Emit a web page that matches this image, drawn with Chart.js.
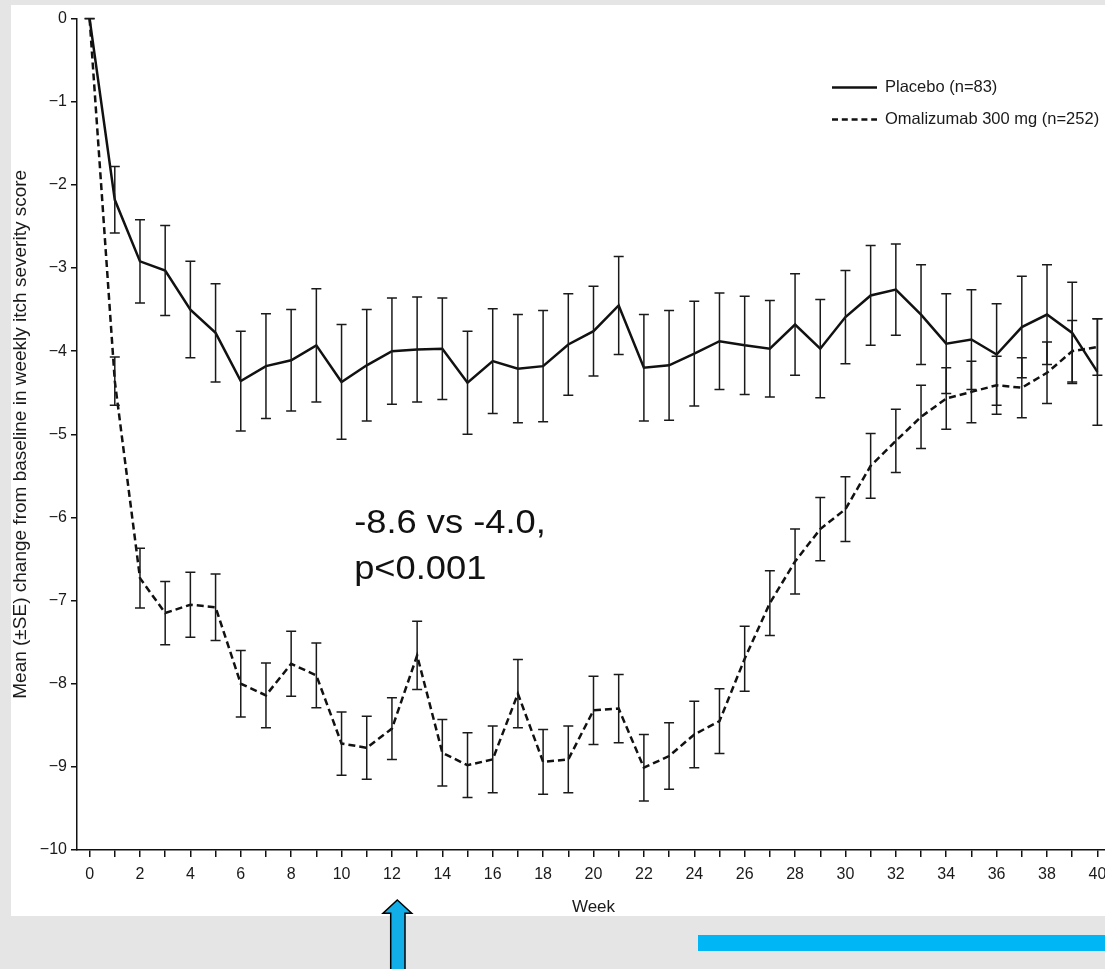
<!DOCTYPE html>
<html>
<head>
<meta charset="utf-8">
<script src="https://cdn.jsdelivr.net/npm/chart.js@4.4.1/dist/chart.umd.min.js"></script>
<style>
  html, body { margin: 0; padding: 0; width: 1105px; height: 969px; overflow: hidden; background: #e5e5e5; }
  .panel { position: absolute; left: 11px; top: 5px; width: 1130px; height: 911px; background: #fff; }
  .panel canvas { display: block; }
  .deco { position: absolute; left: 0; top: 0; }
</style>
</head>
<body>
<div class="panel"><canvas id="itchChart" width="1130" height="911"></canvas></div>
<svg class="deco" width="1105" height="969">
  <rect x="698" y="935" width="407" height="16" fill="#00b6f5"/>
  <path d="M397.3 900 L411.7 913.3 L405 913.3 L405 975 L390.7 975 L390.7 913.3 L383 913.3 Z" fill="#12aee8" stroke="#000" stroke-width="1.5"/>
</svg>
<script>
// weekly itch severity score, mean change from baseline (+/- SE)
const weeks = [0, 1, 2, 3, 4, 5, 6, 7, 8, 9, 10, 11, 12, 13, 14, 15, 16, 17, 18, 19, 20,
  21, 22, 23, 24, 25, 26, 27, 28, 29, 30, 31, 32, 33, 34, 35, 36, 37, 38, 39, 40];

const placeboMean = [0, -2.18, -2.92, -3.03, -3.50, -3.78, -4.36, -4.18, -4.11, -3.93, -4.37,
  -4.17, -4.00, -3.98, -3.97, -4.38, -4.12, -4.21, -4.18, -3.92, -3.76,
  -3.45, -4.20, -4.17, -4.03, -3.88, -3.93, -3.97, -3.68, -3.97, -3.59,
  -3.33, -3.26, -3.56, -3.91, -3.86, -4.04, -3.71, -3.56, -3.78, -4.25];
const placeboSE = [0, 0.40, 0.50, 0.54, 0.58, 0.59, 0.60, 0.63, 0.61, 0.68, 0.69,
  0.67, 0.64, 0.63, 0.61, 0.62, 0.63, 0.65, 0.67, 0.61, 0.54,
  0.59, 0.64, 0.66, 0.63, 0.58, 0.59, 0.58, 0.61, 0.59, 0.56,
  0.60, 0.55, 0.60, 0.60, 0.60, 0.61, 0.61, 0.60, 0.61, 0.64];

const omaMean = [0, -4.36, -6.73, -7.15, -7.05, -7.08, -8.00, -8.14, -7.76, -7.90, -8.72,
  -8.77, -8.54, -7.66, -8.83, -8.98, -8.91, -8.12, -8.94, -8.91, -8.32,
  -8.30, -9.01, -8.87, -8.61, -8.45, -7.70, -7.03, -6.53, -6.14, -5.90,
  -5.38, -5.08, -4.79, -4.57, -4.49, -4.41, -4.44, -4.26, -4.00, -3.95];
const omaSE = [0, 0.29, 0.36, 0.38, 0.39, 0.40, 0.40, 0.39, 0.39, 0.39, 0.38,
  0.38, 0.37, 0.41, 0.40, 0.39, 0.40, 0.41, 0.39, 0.40, 0.41,
  0.41, 0.40, 0.40, 0.40, 0.39, 0.39, 0.39, 0.39, 0.38, 0.39,
  0.39, 0.38, 0.38, 0.37, 0.37, 0.35, 0.36, 0.37, 0.37, 0.34];

const seriesLabels = ['Placebo (n=83)', 'Omalizumab 300 mg (n=252)'];
const noteLines = ['-8.6 vs -4.0,', 'p<0.001'];

const FONT = '"Liberation Sans", Arial, Helvetica, sans-serif';
const INK = '#111';

const errorBars = {
    id: 'errorBars',
    afterDatasetsDraw(chart) {
        const ctx = chart.ctx;
        const y = chart.scales.y;
        ctx.save();
        ctx.strokeStyle = '#1a1a1a';
        ctx.lineWidth = 1.5;
        chart.data.datasets.forEach((ds, i) => {
            chart.getDatasetMeta(i).data.forEach((pt, j) => {
                const m = ds.data[j].y, se = ds.se[j];
                const top = y.getPixelForValue(m + se), bot = y.getPixelForValue(m - se);
                ctx.beginPath();
                ctx.moveTo(pt.x, top); ctx.lineTo(pt.x, bot);
                ctx.moveTo(pt.x - 5, top); ctx.lineTo(pt.x + 5, top);
                if (se > 0) { ctx.moveTo(pt.x - 5, bot); ctx.lineTo(pt.x + 5, bot); }
                ctx.stroke();
            });
        });
        ctx.restore();
    }
};

const sideLegend = {
    id: 'sideLegend',
    afterDraw(chart) {
        const ctx = chart.ctx;
        const a = chart.chartArea;
        const x0 = a.left + 755, y0 = a.top + 69;
        ctx.save();
        ctx.font = '16.5px ' + FONT;
        ctx.textBaseline = 'middle';
        ctx.fillStyle = '#1a1a1a';
        chart.data.datasets.forEach((ds, i) => {
            const yy = y0 + i * 32;
            ctx.strokeStyle = INK;
            ctx.lineWidth = 2.5;
            ctx.setLineDash(ds.borderDash && ds.borderDash.length ? [6, 3.8] : []);
            ctx.beginPath();
            ctx.moveTo(x0, yy); ctx.lineTo(x0 + 45, yy);
            ctx.stroke();
            ctx.fillText(ds.label, x0 + 53, yy);
        });
        ctx.restore();
    }
};

const note = {
    id: 'note',
    afterDraw(chart) {
        const ctx = chart.ctx;
        const px = chart.scales.x.getPixelForValue(10.5);
        const py = chart.scales.y.getPixelForValue(-6.19);
        ctx.save();
        ctx.font = '33px ' + FONT;
        ctx.fillStyle = '#111';
        ctx.textBaseline = 'alphabetic';
        noteLines.forEach((t, i) => {
            ctx.save();
            ctx.translate(px, py + i * 46);
            ctx.scale(1.1, 1);
            ctx.fillText(t, 0, 0);
            ctx.restore();
        });
        ctx.restore();
    }
};

new Chart(document.getElementById('itchChart'), {
    type: 'line',
    data: {
        datasets: [
            {
                label: seriesLabels[0],
                data: weeks.map((w, i) => ({ x: w, y: placeboMean[i] })),
                se: placeboSE,
                borderColor: INK,
                borderWidth: 2.5,
                pointRadius: 0,
                fill: false,
                tension: 0
            },
            {
                label: seriesLabels[1],
                data: weeks.map((w, i) => ({ x: w, y: omaMean[i] })),
                se: omaSE,
                borderColor: INK,
                borderWidth: 2.5,
                borderDash: [7, 4],
                pointRadius: 0,
                fill: false,
                tension: 0
            }
        ]
    },
    options: {
        responsive: false,
        animation: false,
        layout: { padding: { top: 10, right: 31, bottom: 0, left: 0 } },
        plugins: { legend: { display: false }, tooltip: { enabled: false } },
        scales: {
            x: {
                type: 'linear',
                min: -0.5,
                max: 40.5,
                afterBuildTicks: s => { s.ticks = weeks.map(w => ({ value: w })); },
                afterFit: s => { s.height = 66; },
                ticks: {
                    autoSkip: false, maxRotation: 0, minRotation: 0,
                    padding: 8, color: '#1a1a1a',
                    font: { family: FONT, size: 16 },
                    callback: v => (v % 2 === 0 ? String(v) : '')
                },
                grid: { drawOnChartArea: false, drawTicks: true, tickLength: 7, color: INK, lineWidth: 1.5 },
                border: { color: INK, width: 1.5 },
                title: {
                    display: true, text: 'Week', color: '#1a1a1a',
                    font: { family: FONT, size: 17, lineHeight: 1.06 },
                    padding: 0
                }
            },
            y: {
                min: -10,
                max: 0,
                afterFit: s => { s.width = 66; },
                ticks: {
                    stepSize: 1, padding: 4, color: '#1a1a1a',
                    font: { family: FONT, size: 16 },
                    callback: v => (v === 0 ? '0' : '\u2212' + Math.abs(v))
                },
                grid: { drawOnChartArea: false, drawTicks: true, tickLength: 6, color: INK, lineWidth: 1.5 },
                border: { color: INK, width: 1.5 },
                title: {
                    display: true,
                    text: 'Mean (\u00b1SE) change from baseline in weekly itch severity score',
                    color: '#1a1a1a',
                    font: { family: FONT, size: 19, lineHeight: 1 },
                    padding: 0
                }
            }
        }
    },
    plugins: [errorBars, sideLegend, note]
});
</script>
</body>
</html>
